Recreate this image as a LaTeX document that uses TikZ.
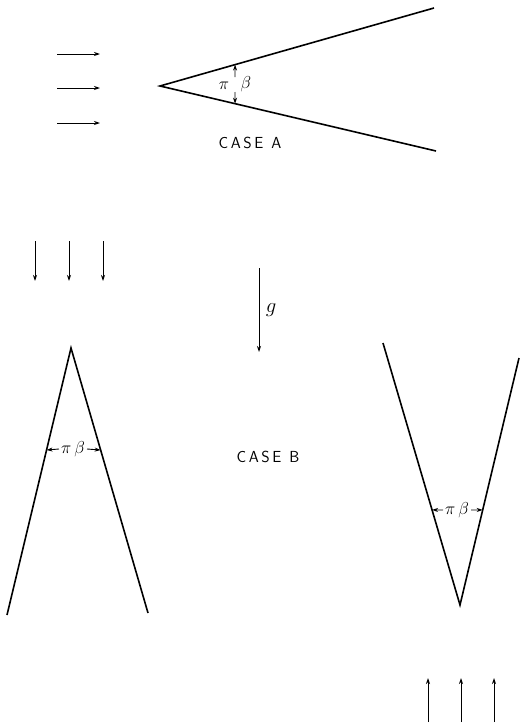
\documentclass[tikz,border=0pt]{standalone}
\usetikzlibrary{arrows.meta,calc}
\tikzset{>={Stealth[length=6pt,width=4pt]},every node/.style={font=\fontsize{18}{20}\selectfont},flow/.style={line width=.9pt,->},edge/.style={line width=1.6pt},angarrow/.style={line width=.9pt,->},caselabel/.style={font=\fontsize{16}{18}\sffamily}}
\begin{document}
\begin{tikzpicture}[x=1pt,y=-1pt]
\useasboundingbox (0,0) rectangle (520,723);
% case A
\coordinate (A0) at (160,86); \coordinate (A1) at (434,8); \coordinate (A2) at (436,151);
\draw[edge] (A1)--(A0)--(A2);
\foreach \y [count=\i] in {54,88,123}{\coordinate (fs\i) at (57,\y); \coordinate (fe\i) at (100,\y); \draw[flow] (fs\i)--(fe\i);}
\coordinate (Au) at ($(A0)!.274!(A1)$); \coordinate (Al) at ($(A0)!.272!(A2)$);
\coordinate (Amu) at (235,77); \coordinate (Aml) at (235,92);
\draw[angarrow] (Amu)--(Au); \draw[angarrow] (Aml)--(Al);
\node (piA) at (224,86) {$\pi$}; \node (betaA) at (246,84) {$\beta$};
\node[caselabel] (caseA) at (250,143) {C\,A\,S\,E\enspace A};
% gravity
\foreach \x [count=\i] in {35,69,103}{\coordinate (ts\i) at (\x,241); \coordinate (te\i) at (\x,281); \draw[flow] (ts\i)--(te\i);}
\coordinate (gs) at (259,268); \coordinate (ge) at (259,352);
\draw[flow] (gs)--(ge) node[midway,right=3pt,font=\fontsize{21}{23}\selectfont] (g) {$g$};
% case B, left
\coordinate (B0) at (71,348); \coordinate (B1) at (7,615); \coordinate (B2) at (148,613);
\draw[edge] (B1)--(B0)--(B2);
\coordinate (Bl) at ($(B0)!.382!(B1)$); \coordinate (Br) at ($(B0)!.385!(B2)$);
\node[inner sep=2pt] (angB) at (73,449) {$\pi\,\beta$};
\draw[angarrow] (angB.west)--(Bl); \draw[angarrow] (angB.east)--(Br);
\node[caselabel] (caseB) at (268,457) {C\,A\,S\,E\enspace B};
% case B, right
\coordinate (C0) at (460,605); \coordinate (C1) at (383,343); \coordinate (C2) at (519,358);
\draw[edge] (C1)--(C0)--(C2);
\coordinate (Cl) at ($(C0)!.363!(C1)$); \coordinate (Cr) at ($(C0)!.385!(C2)$);
\node[inner sep=2pt] (angC) at (457,510) {$\pi\,\beta$};
\draw[angarrow] (angC.west)--(Cl); \draw[angarrow] (angC.east)--(Cr);
\foreach \x [count=\i] in {428,461,494}{\coordinate (bs\i) at (\x,722); \coordinate (be\i) at (\x,678); \draw[flow] (bs\i)--(be\i);}
\end{tikzpicture}
\end{document}
